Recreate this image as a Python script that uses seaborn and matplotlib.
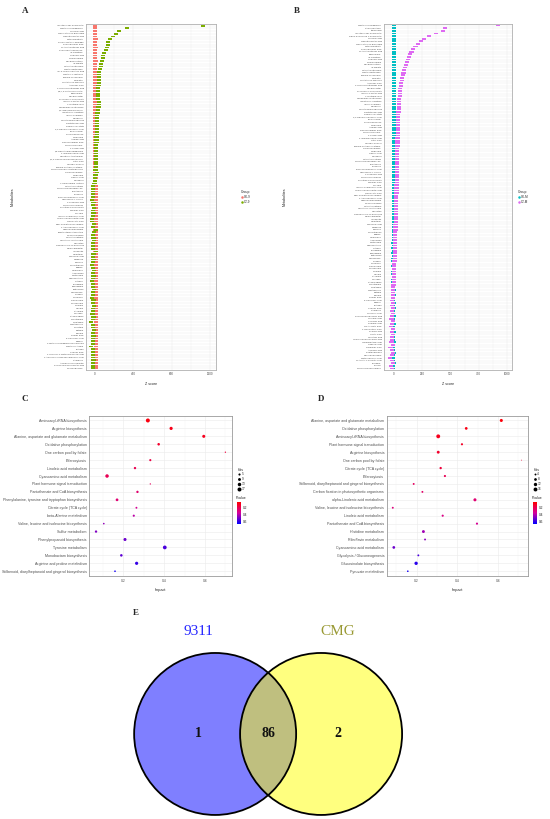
import pandas as pd
import matplotlib
matplotlib.use("Agg")
import matplotlib.pyplot as plt
import seaborn as sns
from matplotlib.colors import LinearSegmentedColormap, Normalize
from matplotlib.cm import ScalarMappable
from matplotlib.lines import Line2D
from matplotlib.patches import Circle
from matplotlib.path import Path
from matplotlib.ticker import MultipleLocator

# ---------------- panel A : z-scores, 9311 ----------------
a_groups = ["CK-9", "CT-9"]
a_names = [
    "Inositol cyclic phosphate", "4-Methylumbelliferone", "Glucaric acid", "Quercetin 3-O-glucoside",
    "Naphthylacetic acid", "Methylisocitrate", "Propyl (Methyl) disulfide", "Phenylpyruvic acid",
    "N-Acetylglutamic acid", "4-Aminobutyraldehyde", "(S)-Carnitine", "Shikimic acid", "L-Homoserine",
    "Dihydrobiopterin", "(S)-Malate", "N-Acetylputrescine", "1-Methylhistamine",
    "(S)-3-Hydroxybutyric acid", "1-Methyl-L-histidine", "gamma-Tocopherol", "Myricetin",
    "Glutathione disulfide", "Ascorbic acid", "3-Hydroxyanthranilic acid", "5,6,7,8-Tetrahydrofolate",
    "Trigonelline", "Dihydrozeatin", "Pyridoxal 5'-phosphate", "Indole-3-acetic acid", "L-Glutamic acid",
    "N-Carbamoylputrescine", "4,4'-Dihydroxybiphenyl", "Isobutyryl-L-carnitine", "Indole-3-carbinol",
    "Riboflavin", "Nicotinamide riboside", "Pantothenic acid", "Farnesyl acetate",
    "2,3-Dihydroxybenzoic acid", "13(S)-HODE", "Cinnamaldehyde", "3-Decenal", "Azelaic acid",
    "Dodecanedioic acid", "4-Hydroxyproline", "2-Furoic acid", "5,6-Dimethylbenzimidazole",
    "2-Isopropylmalic acid", "N-Methyl-L-tryptophan", "2,4,6-Trihydroxybenzophenone", "Citric acid",
    "Sinapyl alcohol", "gamma-Glutamylcysteine", "4-Hydroxyphenylacetaldehyde", "Cyclohexylamine",
    "Hordenine", "Caffeic acid", "Salsolinol", "L-Homoserine lactone", "N-Acetylserotonin",
    "4-Hydroxybenzaldehyde", "Tryptamine", "Tyramine", "Benzenepropanoic acid", "O-Phospho-L-serine",
    "4-Pyridoxic acid", "4-Hydroxycoumarin", "Fructose 6-phosphate", "Malonic acid", "L-Lysine",
    "Indole-3-carboxylic acid", "Hydroxyphenyllactic acid", "Oxalacetic acid", "UDP-N-acetylglucosamine",
    "2-Aminobenzoic acid", "N-Benzylformamide", "8-Methylthiooctanonitrile", "L-Phenylalanine",
    "N-Acetylornithine", "S-Methyl-L-methionine", "Quercitrin", "Kaempferol 3-O-glucoside",
    "Malonylgenistin", "Isoorientin", "Galactinol", "Pipecolic acid", "Raffinose", "Sucrose",
    "L-Tryptophan", "Uridine", "Guanosine", "Adenosine", "Xanthosine", "Hypoxanthine", "Cytidine",
    "Thymidine", "Spermidine", "Putrescine", "Cadaverine", "L-Valine", "L-Leucine", "L-Isoleucine",
    "L-Threonine", "L-Serine", "Glycine", "L-Alanine", "L-Proline", "L-Asparagine", "L-Glutamine",
    "L-Histidine", "L-Methionine", "L-Cystine", "Betaine", "Choline", "Ferulic acid", "p-Coumaric acid",
    "Vanillin", "4-Methylumbelliferone glucuronide", "5-Methylcytosine", "Luteolin", "Suberic acid",
    "2-Hydroxy-4-methoxybenzoic acid", "1-Aminocyclopropanecarboxylic acid", "L-Arginine",
    "Arginine hydroxamate", "P-Hydroxyphenylacetic acid", "2-Furoylglycine",
]
a_ck = [2, 3, 1, 4, 2, 5, 3, 2, 6, 1, 3, 4, 2, 5, 3, 1, 4, 2, 3, 6,
        2, 4, 1, 3, 5, 2, 3, 4, 1, 6, 3, 2, 5, 4, 1, 3, 2, 6, 4, 3,
        5, 2, 4, 1, 3, 6, 2, 5, 3, 4, 2, 1, 4, 3, 5, 2, 6, 3, 4, 8,
        9, 7, 10, 6, 8, 9, 7, 11, 8, 6, 9, 10, 7, 5, 8, 3, 9, 7, 10, 6,
        8, 9, 7, 4, 10, 8, 6, 9, 11, 7, 8, 6, 9, 10, 7, 8, 9, 6, 10, 8,
        7, 9, 6, 8, 10, 7, 9, 8, 6, 11, 7, 9, 8, 10, 6, 9, 7, 8, 12, 9,
        7, 10, 8, 6, 9, 8, 10]
a_ct = [1130, 331, 254, 223, 191, 157, 139, 139, 129, 115, 94, 87, 85, 70, 66, 59, 52, 45, 42, 42,
        40, 38, 37, 35, 34, 33, 31, 30, 42, 45, 36, 28, 26, 25, 24, 24, 22, 21, 20, 18,
        17, 16, 15, 15, 14, 14, 12, 12, 11, 10, 9, 8, 7, 6, 22, 5, 3, 2, -6, -18,
        -20, -22, -18, -25, -30, -16, -20, -12, -18, -15, -22, -35, -30, -10, -18, 8, -14, -20, -16, -12,
        -20, -24, -18, 10, -16, -22, -15, -20, -28, -18, -12, -20, -16, -25, -35, -18, -20, -14, -22, -18,
        -30, -16, -20, -12, -18, -22, -26, -15, -20, -38, -18, -24, -14, -20, -16, -22, -18, -25, -45, -20,
        -18, -24, -20, -16, -22, -18, -24]
a_xticks = [0, 400, 800, 1200]

# ---------------- panel B : z-scores, CMG ----------------
b_groups = ["CK-M", "CT-M"]
b_names = [
    "4-Methylumbelliferone", "4-Aminobutanal", "Ethanedial", "Inositol cyclic phosphate",
    "alpha-D-Glucose 1-phosphate", "Glucaric acid", "Naphthylacetic acid", "Quercetin 3-O-glucoside",
    "Methylisocitrate", "Phenylpyruvic acid", "N-Acetylglutamic acid", "Trigonelline", "(S)-Carnitine",
    "Shikimic acid", "L-Homoserine", "Dihydrobiopterin", "(S)-Malate", "N-Acetylputrescine",
    "1-Methylhistamine", "gamma-Tocopherol", "Myricetin", "Glutathione disulfide", "Ascorbic acid",
    "3-Hydroxyanthranilic acid", "Dihydrozeatin", "Pyridoxal 5'-phosphate", "Indole-3-acetic acid",
    "L-Glutamic acid", "N-Carbamoylputrescine", "Isobutyryl-L-carnitine", "Indole-3-carbinol",
    "Riboflavin", "Nicotinamide riboside", "Pantothenic acid", "Farnesyl acetate",
    "2,3-Dihydroxybenzoic acid", "13(S)-HODE", "Cinnamaldehyde", "3-Decenal", "Azelaic acid",
    "Dodecanedioic acid", "4-Hydroxyproline", "2-Furoic acid", "2-Isopropylmalic acid", "Citric acid",
    "Sinapyl alcohol", "gamma-Glutamylcysteine", "Cyclohexylamine", "Hordenine", "Caffeic acid",
    "Salsolinol", "N-Acetylserotonin", "4-Hydroxybenzaldehyde", "Tryptamine", "Tyramine",
    "Benzenepropanoic acid", "O-Phospho-L-serine", "4-Pyridoxic acid", "4-Hydroxycoumarin",
    "Fructose 6-phosphate", "Malonic acid", "L-Lysine", "Indole-3-carboxylic acid",
    "Hydroxyphenyllactic acid", "Oxalacetic acid", "UDP-N-acetylglucosamine", "2-Aminobenzoic acid",
    "N-Benzylformamide", "L-Phenylalanine", "N-Acetylornithine", "S-Methyl-L-methionine", "Quercitrin",
    "Kaempferol 3-O-glucoside", "Malonylgenistin", "Isoorientin", "Galactinol", "Pipecolic acid",
    "Raffinose", "Sucrose", "L-Tryptophan", "Uridine", "Guanosine", "Adenosine", "Xanthosine",
    "Hypoxanthine", "Cytidine", "Thymidine", "Spermidine", "Putrescine", "Cadaverine", "L-Valine",
    "L-Leucine", "L-Isoleucine", "L-Threonine", "L-Serine", "Glycine", "L-Alanine", "L-Proline",
    "L-Asparagine", "L-Glutamine", "L-Histidine", "L-Methionine", "Betaine", "Choline", "Ferulic acid",
    "p-Coumaric acid", "Vanillin", "Luteolin", "Suberic acid", "L-Arginine", "Gluconic acid",
    "Phosphoenolpyruvic acid", "Glyceric acid", "Succinic acid", "Fumaric acid", "cis-Aconitic acid",
    "2-Oxoglutaric acid", "Pyruvic acid", "Lactic acid", "Nicotinic acid", "Hydroxyphenylpyruvic acid",
    "Homogentisic acid", "Salicylic acid", "Jasmonic acid", "Abscisic acid", "Zeatin riboside",
    "Deoxyguanosine", "Methylmalonic acid", "N-Acetyl-L-aspartic acid", "Thymine", "Tyrosol",
    "4-Hydroxybenzylamine",
]
b_ck = [-2, -1, 0, -3, -1, -2, 0, -1, -3, -2, -1, 0, -2, -1, -3, 0, -2, -1, -1, -2,
        0, -3, -1, -2, -1, 0, -2, -3, -1, -2, 0, -1, -2, -3, -1, 0, -2, -1, -3, -2,
        -1, 0, -2, -1, -3, -2, 0, -1, -2, -1, -3, 0, -2, -1, -2, -3, -1, 0, -2, -1,
        -3, -2, -1, 0, -2, -3, -1, -2, 0, -1, -3, -2, -1, -2, 0, -3, -1, -2, -1, 0,
        -2, -3, -1, -4, -2, -5, -3, -4, -2, -6, -4, -3, -5, -2, -4, -6, -3, -5, -4, -6,
        -5, -3, -6, -4, -5, -7, -3, -6, -4, -5, -6, -4, -7, -5, -3, -6, -5, -4, -6, -7,
        -5, -4, -6, -5, -7, -4, -6, -5, -6, -4, -7, -5]
b_ct = [920, 455, 431, 370, 310, 268, 236, 212, 190, 172, 155, 142, 130, 121, 112, 104, 96, 90, 84, 78,
        72, 68, 64, 60, 57, 54, 52, 50, 48, 46, 44, 42, 41, 40, 39, 38, 37, 36, 35, 34,
        34, 33, 33, 32, 32, 31, 31, 30, 30, 29, 29, 28, 28, 27, 27, 26, 26, 25, 25, 24,
        24, 23, 23, 22, 22, 21, 21, 20, 20, 19, 18, 18, 17, 16, 16, 15, 14, 14, 13, 12,
        12, 11, 10, 10, 9, 8, 8, 7, 6, 6, 5, 4, 4, 3, 2, 2, 1, 0, -2, -4,
        -6, -8, -10, -5, -12, -15, -8, -18, -10, -20, -6, -14, -22, -10, -16, -25, -12, -18, -8, -20,
        -14, -22, -10, -30, -16, -12, -20, -35, -18, -10, -25, -14]
b_xticks = [0, 250, 500, 750, 1000]

# ---------------- panel C : pathway enrichment, 9311 ----------------
c_paths = [
    "Aminoacyl-tRNA biosynthesis", "Arginine biosynthesis", "Alanine, aspartate and glutamate metabolism",
    "Oxidative phosphorylation", "One carbon pool by folate", "Efferocytosis", "Linoleic acid metabolism",
    "Cyanoamino acid metabolism", "Plant hormone signal transduction", "Pantothenate and CoA biosynthesis",
    "Phenylalanine, tyrosine and tryptophan biosynthesis", "Citrate cycle (TCA cycle)",
    "beta-Alanine metabolism", "Valine, leucine and isoleucine biosynthesis", "Sulfur metabolism",
    "Phenylpropanoid biosynthesis", "Tyrosine metabolism", "Monobactam biosynthesis",
    "Arginine and proline metabolism", "Stilbenoid, diarylheptanoid and gingerol biosynthesis",
]
c_impact = [0.32, 0.434, 0.594, 0.373, 0.70, 0.332, 0.257, 0.12, 0.332, 0.269,
            0.169, 0.264, 0.251, 0.104, 0.066, 0.208, 0.403, 0.19, 0.265, 0.159]
c_hits = [17, 11, 10, 7, 2, 5, 6, 13, 2, 6, 8, 4, 5, 3, 6, 10, 15, 7, 11, 3]
c_pval = [0.06, 0.08, 0.09, 0.12, 0.15, 0.17, 0.19, 0.2, 0.22, 0.25,
          0.26, 0.33, 0.38, 0.44, 0.47, 0.5, 0.55, 0.52, 0.58, 0.63]
c_hit_levels = [5, 9, 13, 17]

# ---------------- panel D : pathway enrichment, CMG ----------------
d_paths = [
    "Alanine, aspartate and glutamate metabolism", "Oxidative phosphorylation", "Aminoacyl-tRNA biosynthesis",
    "Plant hormone signal transduction", "Arginine biosynthesis", "One carbon pool by folate",
    "Citrate cycle (TCA cycle)", "Efferocytosis", "Stilbenoid, diarylheptanoid and gingerol biosynthesis",
    "Carbon fixation in photosynthetic organisms", "alpha-Linolenic acid metabolism",
    "Valine, leucine and isoleucine biosynthesis", "Linoleic acid metabolism",
    "Pantothenate and CoA biosynthesis", "Histidine metabolism", "Riboflavin metabolism",
    "Cyanoamino acid metabolism", "Glycolysis / Gluconeogenesis", "Glucosinolate biosynthesis",
    "Pyruvate metabolism",
]
d_impact = [0.617, 0.444, 0.306, 0.423, 0.306, 0.717, 0.318, 0.339, 0.185, 0.228,
            0.487, 0.082, 0.328, 0.497, 0.233, 0.241, 0.087, 0.208, 0.197, 0.156]
d_hits = [10, 8, 16, 5, 9, 1, 6, 5, 4, 4, 10, 4, 5, 5, 9, 4, 8, 4, 12, 3]
d_pval = [0.05, 0.07, 0.09, 0.11, 0.12, 0.14, 0.15, 0.2, 0.22, 0.24,
          0.26, 0.28, 0.3, 0.33, 0.42, 0.45, 0.5, 0.55, 0.6, 0.63]
d_hit_levels = [4, 8, 12, 16]

# ---------------- panel E : Venn ----------------
venn_sets = ["9311", "CMG"]
venn_counts = [1, 86, 2]   # only 9311, shared, only CMG

sns.set_theme(style="white")
plt.rcParams["font.family"] = ["Liberation Sans", "DejaVu Sans"]
SERIF = ["Liberation Serif", "DejaVu Serif"]

W, H = 550, 819
fig = plt.figure(figsize=(W / 100, H / 100), dpi=100)


def box(x0, y0, x1, y1):
    return fig.add_axes([x0 / W, 1 - y1 / H, (x1 - x0) / W, (y1 - y0) / H])


def frame(ax, color):
    for sp in ax.spines.values():
        sp.set_color(color)
        sp.set_linewidth(0.6)


dash = Path([(-1, -0.42), (1, -0.42), (1, 0.42), (-1, 0.42), (-1, -0.42)],
            [Path.MOVETO, Path.LINETO, Path.LINETO, Path.LINETO, Path.CLOSEPOLY])


def zscore_panel(ax, names, ck, ct, groups, colors, xticks, xlim, leg_xy, ylab_x):
    n = len(names)
    df = pd.DataFrame({"Metabolites": names + names, "z": ck + ct,
                       "Group": [groups[0]] * n + [groups[1]] * n})
    sns.scatterplot(data=df, x="z", y="Metabolites", hue="Group", hue_order=groups,
                    palette=colors, marker=dash, s=9, linewidth=0, legend=False, ax=ax)
    ax.set_ylim(n - 0.4, -0.6)
    ax.set_xlim(*xlim)
    ax.set_xticks(xticks)
    ax.xaxis.set_minor_locator(MultipleLocator((xticks[1] - xticks[0]) / 2))
    ax.grid(True, which="major", color="#ebebeb", lw=0.35)
    ax.grid(True, which="minor", axis="x", color="#f3f3f3", lw=0.25)
    ax.set_axisbelow(True)
    ax.tick_params(axis="y", labelsize=1.7, length=0.8, width=0.3, pad=0.8, colors="#4d4d4d")
    ax.tick_params(axis="x", labelsize=2.2, length=0.8, width=0.3, pad=0.8, colors="#4d4d4d")
    ax.set_xlabel("Z score", fontsize=2.6, labelpad=1)
    ax.set_ylabel("Metabolites", fontsize=2.6)
    ax.yaxis.set_label_coords(ylab_x, 0.5)
    frame(ax, "#b0b0b0")
    handles = [Line2D([], [], ls="", marker="o", ms=1.8, mfc=c, mec="none") for c in colors]
    leg = fig.legend(handles, groups, title="Group", loc="center left",
                     bbox_to_anchor=(leg_xy[0] / W, 1 - leg_xy[1] / H), frameon=False,
                     fontsize=2.2, title_fontsize=2.4, handlelength=0.8, handletextpad=0.3,
                     labelspacing=0.3, borderpad=0)
    leg._legend_box.align = "left"


axA = box(86, 24, 216, 370)
zscore_panel(axA, a_names, a_ck, a_ct, a_groups, ["#F8766D", "#7CAE00"], a_xticks,
             (-94, 1263), (239, 197), -0.55)
axB = box(384, 24, 512, 370)
zscore_panel(axB, b_names, b_ck, b_ct, b_groups, ["#00BFC4", "#DE6AF2"], b_xticks,
             (-88, 1044), (516, 197), -0.76)

pcmap = LinearSegmentedColormap.from_list("pv", ["#ff0000", "#d4009c", "#0000ff"])
pnorm = Normalize(0.03, 0.66)
SMIN, SMAX, HMIN, HMAX = 0.4, 8.3, 1, 17


def hit_area(h):
    return SMIN + (h - HMIN) / (HMAX - HMIN) * (SMAX - SMIN)


def pathway_panel(ax, paths, impact, hits, pval, levels, xlim, leg_x):
    df = pd.DataFrame({"Pathway": paths, "Impact": impact, "Hits": hits, "Pvalue": pval})
    sns.scatterplot(data=df, x="Impact", y="Pathway", hue="Pvalue", size="Hits",
                    palette=pcmap, hue_norm=pnorm, sizes=(SMIN, SMAX), size_norm=(HMIN, HMAX),
                    linewidth=0, legend=False, ax=ax)
    n = len(paths)
    ax.set_ylim(n - 0.4, -0.6)
    ax.set_xlim(*xlim)
    ax.set_xticks([0.2, 0.4, 0.6])
    ax.xaxis.set_minor_locator(MultipleLocator(0.1))
    ax.grid(True, which="major", color="#ebebeb", lw=0.4)
    ax.grid(True, which="minor", axis="x", color="#f3f3f3", lw=0.3)
    ax.set_axisbelow(True)
    ax.tick_params(axis="y", labelsize=2.6, length=0.8, width=0.3, pad=1, colors="#4d4d4d")
    ax.tick_params(axis="x", labelsize=2.4, length=0.8, width=0.3, pad=1, colors="#4d4d4d")
    ax.set_xlabel("Impact", fontsize=2.8, labelpad=1)
    ax.set_ylabel("")
    frame(ax, "#9a9a9a")

    handles = [Line2D([], [], ls="", marker="o", ms=hit_area(h) ** 0.5, mfc="black", mec="none")
               for h in levels]
    leg = fig.legend(handles, [str(h) for h in levels], title="Hits", loc="upper left",
                     bbox_to_anchor=(leg_x / W, 1 - 466 / H), frameon=False, fontsize=2.3,
                     title_fontsize=2.5, handlelength=0.8, handletextpad=0.4,
                     labelspacing=0.25, borderpad=0)
    leg._legend_box.align = "left"

    fig.text(leg_x / W, 1 - 500 / H, "Pvalue", fontsize=2.5, va="bottom")
    cax = box(leg_x + 1, 502, leg_x + 5, 524)
    cb = fig.colorbar(ScalarMappable(norm=pnorm, cmap=pcmap), cax=cax)
    cax.invert_yaxis()
    cb.outline.set_visible(False)
    cb.set_ticks([0.2, 0.4, 0.6])
    cax.tick_params(labelsize=2.3, length=0, pad=1)


axC = box(89.3, 415.7, 231.7, 576)
pathway_panel(axC, c_paths, c_impact, c_hits, c_pval, c_hit_levels, (0.033, 0.731), 236)
axD = box(386.7, 415.7, 528.3, 576)
pathway_panel(axD, d_paths, d_impact, d_hits, d_pval, d_hit_levels, (0.052, 0.75), 532)

# Venn diagram (unit radius circles)
vax = box(0, 600, 550, 819)
vax.set_xlim(-3.31, 3.48)
vax.set_ylim(-1.05, 1.654)
vax.axis("off")
centers = [-0.654, 0.654]
for cx, fc in zip(centers, ["blue", "yellow"]):
    vax.add_patch(Circle((cx, 0), 1, fc=fc, alpha=0.5, ec="none"))
for cx in centers:
    vax.add_patch(Circle((cx, 0), 1, fc="none", ec="black", lw=1.3))
for cx, name, col in zip(centers, venn_sets, ["#2525ff", "#999933"]):
    vax.text(cx * 1.32, 1.26, name, ha="center", va="center", fontsize=11,
             family=SERIF, color=col)
for x, cnt in zip([-0.864, 0, 0.864], venn_counts):
    vax.text(x, 0, str(cnt), ha="center", va="center", fontsize=10,
             family=SERIF, fontweight="bold", color="#111111")

for lab, x, y in [("A", 25, 11), ("B", 297, 11), ("C", 25, 399), ("D", 321, 399), ("E", 136, 613)]:
    fig.text(x / W, 1 - y / H, lab, fontsize=6.5, fontweight="bold", family=SERIF,
             ha="center", va="center")

fig.savefig("out.png", dpi=100)
